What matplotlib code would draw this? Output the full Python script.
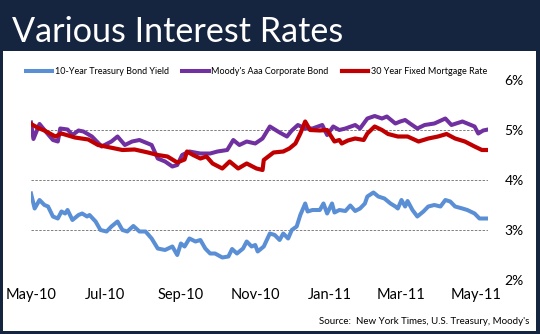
import pandas as pd
import matplotlib
matplotlib.use("Agg")
from matplotlib import pyplot as plt
from matplotlib.patches import Rectangle
import matplotlib.dates as mdates

plt.rcParams['font.family'] = ['Lato', 'DejaVu Sans']

START = pd.Timestamp('2010-05-01')

# days after 2010-05-01
treasury_days = [0, 3, 7, 11, 14, 18, 22, 25, 28, 30, 34, 39, 42, 46, 48, 53, 57, 62, 66, 71,
                 75, 79, 84, 89, 94, 99, 104, 110, 116, 120, 123, 126, 130, 135, 139, 143, 147,
                 151, 157, 162, 165, 169, 174, 177, 181, 184, 186, 191, 196, 200, 204, 207, 211,
                 214, 218, 221, 225, 227, 231, 237, 240, 243, 247, 249, 253, 258, 262, 266, 270,
                 274, 276, 281, 285, 290, 295, 299, 301, 304, 307, 309, 313, 317, 322, 326, 331,
                 336, 340, 344, 348, 354, 358, 364, 368, 372, 375]
treasury = [3.73, 3.43, 3.60, 3.50, 3.47, 3.27, 3.23, 3.37, 3.33, 3.40, 3.20, 3.30, 3.33, 3.27,
            3.30, 3.17, 3.00, 2.97, 3.07, 3.17, 3.00, 2.97, 3.08, 2.97, 2.97, 2.83, 2.63, 2.60,
            2.67, 2.50, 2.73, 2.67, 2.83, 2.77, 2.80, 2.63, 2.53, 2.53, 2.45, 2.47, 2.62, 2.53,
            2.63, 2.77, 2.67, 2.70, 2.57, 2.67, 2.93, 2.90, 2.80, 2.93, 2.83, 3.00, 3.07, 3.30,
            3.53, 3.37, 3.40, 3.40, 3.53, 3.33, 3.53, 3.35, 3.40, 3.38, 3.49, 3.38, 3.43, 3.53,
            3.67, 3.75, 3.67, 3.63, 3.53, 3.47, 3.43, 3.60, 3.47, 3.58, 3.40, 3.27, 3.37, 3.47,
            3.50, 3.47, 3.60, 3.57, 3.47, 3.43, 3.40, 3.33, 3.23, 3.23, 3.23]

aaa_days = [0, 2, 7, 11, 18, 22, 24, 30, 34, 39, 43, 50, 58, 66, 71, 77, 83, 89, 99, 104, 110,
            116, 120, 124, 130, 139, 147, 153, 161, 166, 171, 177, 184, 190, 196, 204, 210, 214,
            219, 225, 231, 239, 243, 248, 253, 258, 266, 270, 276, 282, 288, 292, 299, 303, 307,
            311, 317, 323, 331, 340, 345, 354, 358, 364, 367, 371, 375]
aaa = [5.15, 4.82, 5.12, 5.00, 4.80, 4.77, 5.03, 5.01, 4.90, 4.99, 4.97, 4.87, 4.67, 4.77, 4.87,
       4.70, 4.77, 4.80, 4.70, 4.43, 4.37, 4.27, 4.30, 4.50, 4.57, 4.53, 4.53, 4.57, 4.60, 4.80,
       4.70, 4.77, 4.73, 4.83, 5.07, 4.95, 4.87, 4.99, 5.10, 5.03, 5.03, 5.10, 4.90, 5.07, 5.00,
       5.03, 5.10, 5.03, 5.23, 5.28, 5.23, 5.27, 5.13, 5.17, 5.20, 5.13, 5.03, 5.10, 5.13, 5.23,
       5.10, 5.17, 5.13, 5.07, 4.93, 4.99, 5.01]

mortgage_days = [0, 6, 11, 20, 25, 36, 47, 55, 63, 75, 85, 96, 104, 112, 120, 126, 128, 133, 139,
                 144, 149, 157, 163, 170, 177, 185, 190, 191, 199, 207, 212, 217, 221, 225, 229,
                 237, 243, 249, 253, 255, 260, 266, 273, 276, 282, 288, 293, 301, 309, 318, 326,
                 334, 341, 348, 356, 364, 370, 375]
mortgage = [5.12, 5.04, 4.99, 4.87, 4.93, 4.85, 4.81, 4.70, 4.66, 4.60, 4.61, 4.55, 4.50, 4.47,
            4.35, 4.41, 4.57, 4.50, 4.43, 4.47, 4.33, 4.23, 4.37, 4.23, 4.33, 4.23, 4.20, 4.40,
            4.55, 4.57, 4.63, 4.73, 4.93, 5.17, 5.00, 4.99, 5.00, 4.77, 4.80, 4.73, 4.79, 4.83,
            4.80, 4.93, 5.07, 5.00, 4.92, 4.87, 4.87, 4.77, 4.83, 4.87, 4.92, 4.83, 4.77, 4.67,
            4.60, 4.60]

series_names = ["10-Year Treasury Bond Yield", "Moody's Aaa Corporate Bond", "30 Year Fixed Mortgage Rate"]
y_ticks = [2, 3, 4, 5, 6]

NAVY = '#15243f'
W, H = 540, 334

fig = plt.figure(figsize=(5.4, 3.34), dpi=100, facecolor=NAVY)
# white panel behind the chart
fig.patches.append(Rectangle((3 / W, 1 - 331 / H), 533 / W, 280 / H, transform=fig.transFigure,
                             facecolor='white', edgecolor='none', zorder=-1))

fig.text(12 / W, 1 - 42 / H, "Various Interest Rates", color='white', fontsize=24.6,
         va='baseline', ha='left')

ax = fig.add_axes([31 / W, 1 - 280 / H, 457 / W, 200 / H])
ax.set_zorder(2)
ax.set_facecolor('none')

def to_dates(days):
    return START + pd.to_timedelta(days, unit='D')

ax.plot(to_dates(treasury_days), treasury, color='#5a8fd6', lw=2.9, label=series_names[0])
ax.plot(to_dates(aaa_days), aaa, color='#7030a0', lw=2.9, label=series_names[1])
ax.plot(to_dates(mortgage_days), mortgage, color='#c00000', lw=3.0, label=series_names[2])

ax.set_xlim(START, START + pd.Timedelta(days=375))
ax.set_ylim(2, 6)
ax.set_yticks(y_ticks)
ax.yaxis.set_major_formatter(lambda v, p: f"{v:.0f}%")
ax.yaxis.tick_right()
ax.xaxis.set_major_locator(mdates.MonthLocator(bymonth=[1, 3, 5, 7, 9, 11]))
ax.xaxis.set_major_formatter(mdates.DateFormatter('%b-%y'))
ax.tick_params(axis='y', length=0, pad=12, labelsize=10)
ax.tick_params(axis='x', length=0, pad=6, labelsize=10.5)

ax.grid(axis='y', color='#808080', lw=0.7, ls=(0, (2.5, 1.5)))
ax.yaxis.get_gridlines()[-1].set_visible(False)
for s in ax.spines.values():
    s.set_visible(False)

ax.legend(loc='center left', bbox_to_anchor=(26 / W, 1 - 72 / H), bbox_transform=fig.transFigure,
          ncol=3, frameon=False, fontsize=6.5, handlelength=2.9, handletextpad=0.3,
          columnspacing=1.5, borderpad=0, borderaxespad=0)

fig.text(529 / W, 1 - 322 / H, "Source:  New York Times, U.S. Treasury, Moody's", fontsize=7,
         ha='right', va='center')

fig.savefig('out.png', dpi=100, facecolor=NAVY)
